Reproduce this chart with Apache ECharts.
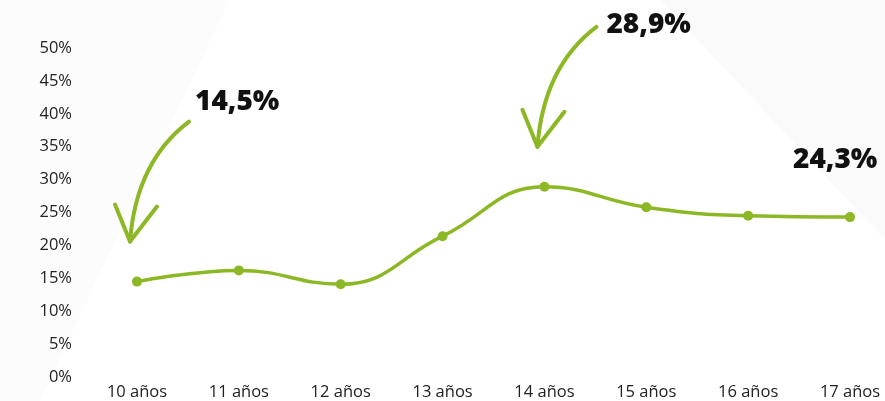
<!DOCTYPE html>
<html>
<head>
<meta charset="utf-8">
<title>Porcentaje por edad</title>
<script src="https://cdn.jsdelivr.net/npm/echarts@6/dist/echarts.min.js"></script>
<style>
  html, body { margin: 0; padding: 0; background: #fff; }
  #chart { width: 885px; height: 401px; }
</style>
</head>
<body>
<div id="chart"></div>
<script>
// data
const categories = ['10 años', '11 años', '12 años', '13 años', '14 años', '15 años', '16 años', '17 años'];
const values = [14.5, 16.2, 14.1, 21.4, 28.9, 25.8, 24.5, 24.3];
const yMin = 0;
const yMax = 50;
const yStep = 5;
// highlighted points: index into values + label text
const calloutIdx = [0, 4, 7];
const calloutText = ['14,5%', '28,9%', '24,3%'];

const GREEN = '#8cb825';
const chart = echarts.init(document.getElementById('chart'), null, { renderer: 'canvas' });

chart.setOption({
  backgroundColor: 'transparent',
  animation: false,
  textStyle: { fontFamily: '"Open Sans", sans-serif' },
  grid: { left: 137, right: 35, top: 48, bottom: 23 },
  xAxis: {
    type: 'category',
    data: categories,
    boundaryGap: false,
    axisLine: { show: false },
    axisTick: { show: false },
    axisLabel: { color: '#222', fontSize: 16.5, margin: 7 },
  },
  yAxis: {
    type: 'value',
    min: yMin,
    max: yMax,
    interval: yStep,
    axisLine: { show: false },
    axisTick: { show: false },
    splitLine: { show: false },
    axisLabel: { color: '#222', fontSize: 16.5, margin: 65, formatter: v => v + '%' },
  },
  series: [{
    type: 'line',
    data: values,
    smooth: 0.45,
    symbol: 'circle',
    symbolSize: 10,
    itemStyle: { color: GREEN },
    lineStyle: { color: GREEN, width: 3.5 },
  }],
});

// label placement relative to its point (px), and whether it gets an arrow
const layout = [
  { dx: 58, dy: -180, arrow: true },
  { dx: 62, dy: -162, arrow: true },
  { dx: -57, dy: -57, arrow: false },
];

function drawExtras() {
  const els = [
    { type: 'polygon', z: -10, shape: { points: [[0, 0], [230, 0], [40, 401], [0, 401]] }, style: { fill: 'rgba(0,0,0,0.012)' } },
    { type: 'polygon', z: -10, shape: { points: [[660, 0], [885, 0], [885, 240]] }, style: { fill: 'rgba(0,0,0,0.018)' } },
  ];
  calloutIdx.forEach((idx, i) => {
    const [px, py] = chart.convertToPixel({ seriesIndex: 0 }, [idx, values[idx]]);
    const L = layout[i];
    if (L.arrow) {
      els.push({
        type: 'bezierCurve',
        shape: { x1: px + 52, y1: py - 160, x2: px - 7, y2: py - 40, cpx1: px - 1, cpy1: py - 120 },
        style: { stroke: GREEN, lineWidth: 4, fill: null, lineCap: 'round' },
      });
      els.push({
        type: 'polyline',
        shape: { points: [[px - 22, py - 77], [px - 7, py - 40], [px + 20, py - 75]] },
        style: { stroke: GREEN, lineWidth: 4, fill: null, lineCap: 'round', lineJoin: 'round' },
      });
    }
    els.push({
      type: 'text',
      x: px + L.dx, y: py + L.dy,
      style: { text: calloutText[i], fill: '#111', font: '800 28px "Open Sans", sans-serif', verticalAlign: 'middle' },
    });
  });
  chart.setOption({ graphic: els });
}
drawExtras();
</script>
</body>
</html>
